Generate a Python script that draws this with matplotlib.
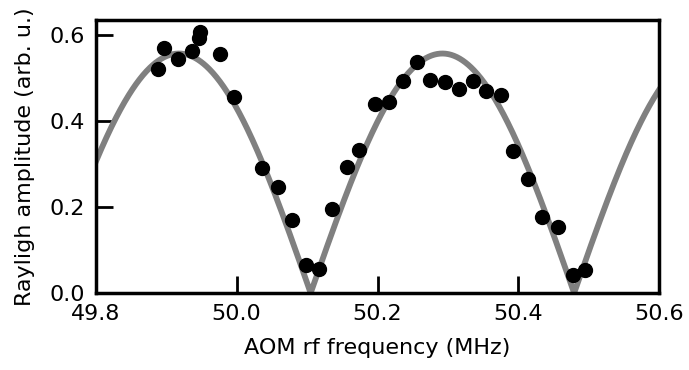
import numpy as np
from matplotlib import pyplot as plt

# Measured Rayleigh amplitude vs AOM rf frequency
freq_mhz = [49.888, 49.897, 49.917, 49.937, 49.948, 49.947, 49.977, 49.996,
            50.036, 50.058, 50.078, 50.099, 50.117, 50.135, 50.156, 50.174,
            50.196, 50.216, 50.236, 50.256, 50.275, 50.296, 50.315, 50.335,
            50.354, 50.375, 50.392, 50.414, 50.434, 50.456, 50.477, 50.495]
amplitude = [0.520, 0.570, 0.544, 0.563, 0.606, 0.592, 0.556, 0.457,
             0.290, 0.246, 0.170, 0.065, 0.055, 0.195, 0.293, 0.333,
             0.440, 0.445, 0.494, 0.538, 0.495, 0.490, 0.474, 0.493,
             0.470, 0.460, 0.330, 0.266, 0.177, 0.153, 0.042, 0.053]

# Fit: A * |sin(pi * (f - f_zero) / period)|
fit_amp = 0.557
fit_zero = 50.105
fit_period = 0.374

x_ticks = [49.8, 50.0, 50.2, 50.4, 50.6]
y_ticks = [0.0, 0.2, 0.4, 0.6]

plt.rcParams['font.family'] = 'DejaVu Sans'
plt.rcParams['font.size'] = 16

fig = plt.figure(figsize=(6.89, 3.70), dpi=100)
ax = fig.add_axes([0.139, 0.208, 0.818, 0.738])

f_fit = np.linspace(49.8, 50.6, 800)
ax.plot(f_fit, fit_amp * np.abs(np.sin(np.pi * (f_fit - fit_zero) / fit_period)),
        color='#808080', linewidth=4.2, zorder=2)
ax.plot(freq_mhz, amplitude, 'o', color='black', markersize=10, zorder=3)

ax.set_xlim(49.8, 50.6)
ax.set_ylim(0, 0.635)
ax.set_xticks(x_ticks)
ax.set_yticks(y_ticks)
ax.set_xticklabels([f"{t:.1f}" for t in x_ticks])
ax.set_yticklabels([f"{t:.1f}" for t in y_ticks])
ax.tick_params(direction='in', length=12, width=2, pad=8)
for s in ax.spines.values():
    s.set_linewidth(2.5)

ax.set_xlabel('AOM rf frequency (MHz)', labelpad=10)
ax.set_ylabel('Rayligh amplitude (arb. u.)', labelpad=10)

plt.savefig('out.png', dpi=100)
